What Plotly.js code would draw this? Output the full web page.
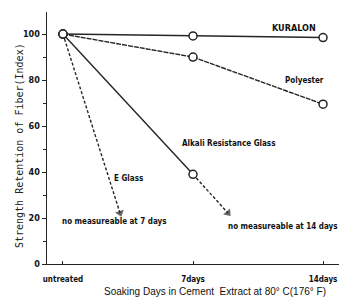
<!DOCTYPE html>
<html><head><meta charset="utf-8">
<script src="https://cdn.plot.ly/plotly-3.0.1.min.js"></script>
<style>html,body{margin:0;padding:0;background:#fff}#c{width:339px;height:297px}</style>
</head><body><div id="c"></div>
<script>
// data
const days = [0, 7, 14];
const tickLabels = ['untreated', '7days', '14days'];
const kuralon = [100, 99.2, 98.5];
const polyester = [100, 90, 69.5];
const alkaliDays = [0, 7];
const alkali = [100, 39];
const alkaliArrowDays = [7, 8.88];
const alkaliArrow = [39, 22.2];
const eGlassDays = [0, 3.07];
const eGlass = [100, 22.2];
const labelNames = ['KURALON', 'Polyester', 'Alkali Resistance Glass', 'E Glass', 'no measureable at 7 days', 'no measureable at 14 days'];
const labelX = [12.44, 13.0, 8.89, 3.55, 2.75, 11.85];
const labelY = [102.6, 80, 52.6, 37, 18.3, 16.5];

const ink = '#252525';
const cond = 'DejaVu Sans Condensed, Liberation Sans Narrow, Arial Narrow, sans-serif';
const circ = {symbol: 'circle', size: 8, color: '#fff', line: {color: ink, width: 1.5}};

const traces = [
  {x: eGlassDays, y: eGlass, mode: 'lines+markers', line: {color: ink, width: 1.4, dash: '3px,2px'},
   marker: {symbol: ['circle', 'triangle-up'], size: [1, 8], color: ink, angleref: 'previous', line: {width: 0}}},
  {x: alkaliArrowDays, y: alkaliArrow, mode: 'lines+markers', line: {color: ink, width: 1.4, dash: '3px,2px'},
   marker: {symbol: ['circle', 'triangle-up'], size: [1, 8], color: ink, angleref: 'previous', line: {width: 0}}},
  {x: alkaliDays, y: alkali, mode: 'lines+markers', line: {color: ink, width: 1.4}, marker: circ},
  {x: days, y: polyester, mode: 'lines+markers', line: {color: ink, width: 1.4, dash: '5px,1px'}, marker: circ},
  {x: days, y: kuralon, mode: 'lines+markers', line: {color: ink, width: 1.4}, marker: circ}
];

const anns = labelNames.map((t, i) => ({
  x: labelX[i], y: labelY[i], xref: 'x', yref: 'y', text: t, showarrow: false,
  font: {family: cond, size: i === 0 ? 9 : 8, color: '#111', weight: 'bold'}
}));
anns.push({xref: 'paper', yref: 'paper', x: -0.12, y: 0.47, textangle: -90, showarrow: false,
  text: 'Strength Retention of Fiber(Index)', font: {family: 'DejaVu Sans Mono, monospace', size: 10, color: '#222'}});
anns.push({xref: 'x', yref: 'paper', x: 8.2, y: 0, yanchor: 'middle', yshift: -27, showarrow: false,
  text: 'Soaking Days in Cement  Extract at 80\u00b0 C(176\u00b0 F)', font: {family: 'Liberation Sans, Arial, sans-serif', size: 10, color: '#111'}});

const layout = {
  width: 339, height: 297, margin: {l: 47, r: 0, t: 12, b: 33},
  paper_bgcolor: '#fff', plot_bgcolor: '#fff', showlegend: false,
  xaxis: {range: [-0.86, 14.86], showgrid: false, zeroline: false, showline: true, linecolor: ink, linewidth: 1.4,
    tickvals: days, ticktext: tickLabels, ticks: 'inside', ticklen: 3, tickcolor: ink, ticklabelstandoff: 7,
    tickfont: {family: cond, size: 8, color: '#111', weight: 'bold'}, fixedrange: true},
  yaxis: {range: [0, 109.6], showgrid: false, zeroline: false, showline: true, linecolor: ink, linewidth: 1.4,
    tickvals: [0, 20, 40, 60, 80, 100], ticks: 'outside', ticklen: 4, tickcolor: ink,
    minor: {tickvals: [10, 30, 50, 70, 90], ticks: 'outside', ticklen: 3, tickcolor: ink},
    tickfont: {family: cond, size: 9, color: '#111', weight: 'bold'}, fixedrange: true},
  annotations: anns
};
Plotly.newPlot('c', traces, layout, {displayModeBar: false, staticPlot: true});
</script></body></html>
